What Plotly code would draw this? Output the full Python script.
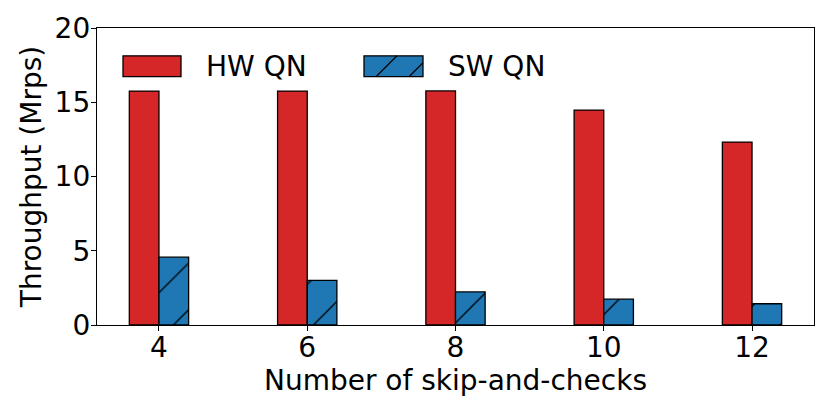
import plotly.graph_objects as go

categories = ["4", "6", "8", "10", "12"]
hw_qn = [15.75, 15.75, 15.76, 14.47, 12.32]
sw_qn = [4.57, 3.01, 2.23, 1.74, 1.43]
y_ticks = [0, 5, 10, 15, 20]

RED = "#d62728"
BLUE = "#1f77b4"
FONT = "DejaVu Sans"
FS = 28

W, H = 830, 415
L, T = 97, 26
R = W - 814
B = H - 325
PW, PH = W - L - R, H - T - B

def px(x):
    return (x - L) / PW

def py(y):
    return (H - B - y) / PH

fig = go.Figure()
fig.add_trace(go.Bar(
    x=categories, y=hw_qn, name="HW QN", width=0.2, offset=-0.2,
    marker=dict(color=RED, line=dict(color="black", width=1.3)),
    showlegend=False,
))
fig.add_trace(go.Bar(
    x=categories, y=sw_qn, name="SW QN", width=0.2, offset=0.0,
    marker=dict(color=BLUE, line=dict(color="black", width=1.3),
                pattern=dict(shape="/", fgcolor="black", bgcolor=BLUE,
                             size=33, solidity=0.04, fillmode="replace")),
    showlegend=False,
))

shapes = []
shapes.append(dict(type="rect", xref="paper", yref="paper",
                   x0=px(123), x1=px(181), y0=py(75), y1=py(54),
                   fillcolor=RED, line=dict(color="black", width=1.3)))
shapes.append(dict(type="rect", xref="paper", yref="paper",
                   x0=px(364), x1=px(423), y0=py(75), y1=py(54),
                   fillcolor=BLUE, line=dict(color="black", width=1.3)))
shapes.append(dict(type="line", xref="paper", yref="paper",
                   x0=px(376), y0=py(75), x1=px(397), y1=py(54),
                   line=dict(color="black", width=1.3)))
shapes.append(dict(type="line", xref="paper", yref="paper",
                   x0=px(409), y0=py(75), x1=px(423), y1=py(61),
                   line=dict(color="black", width=1.3)))

annotations = [
    dict(text="HW QN", xref="paper", yref="paper", x=px(204), y=py(64.5),
         xanchor="left", yanchor="middle", showarrow=False,
         font=dict(family=FONT, size=FS, color="black")),
    dict(text="SW QN", xref="paper", yref="paper", x=px(446), y=py(64.5),
         xanchor="left", yanchor="middle", showarrow=False,
         font=dict(family=FONT, size=FS, color="black")),
]

fig.update_layout(
    width=W, height=H,
    margin=dict(l=L, r=R, t=T, b=B),
    paper_bgcolor="white", plot_bgcolor="white",
    font=dict(family=FONT, size=FS, color="black"),
    shapes=shapes, annotations=annotations,
    barmode="overlay",
)
fig.update_xaxes(
    type="category", range=[-0.418, 4.418],
    showline=True, linecolor="black", linewidth=1.3, mirror=True,
    ticks="outside", ticklen=5, tickwidth=1.3, tickcolor="black",
    ticklabelstandoff=-8,
    showgrid=False, zeroline=False,
    title=dict(text="Number of skip-and-checks", standoff=0,
               font=dict(family=FONT, size=FS)),
    tickfont=dict(family=FONT, size=FS),
)
fig.update_yaxes(
    range=[0, 20], tickvals=y_ticks,
    showline=True, linecolor="black", linewidth=1.3, mirror=True,
    ticks="outside", ticklen=5, tickwidth=1.3, tickcolor="black",
    ticklabelstandoff=-5,
    showgrid=False, zeroline=False,
    title=dict(text="Throughput (Mrps)", standoff=4,
               font=dict(family=FONT, size=FS)),
    tickfont=dict(family=FONT, size=FS),
)

fig.write_html("out.html", config={"displayModeBar": False},
               post_script="document.body.style.margin='0';")
